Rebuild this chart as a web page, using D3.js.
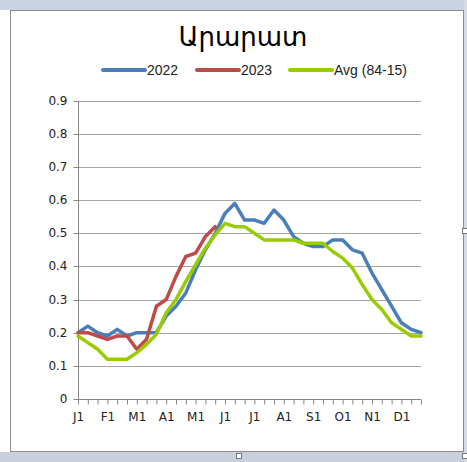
<!DOCTYPE html>
<html><head><meta charset="utf-8">
<script src="https://cdn.jsdelivr.net/npm/d3@7"></script>
<style>html,body{margin:0;padding:0;background:#fff;}svg{display:block;}</style>
</head><body>
<script>
const title = "Արարատ";
const monthLabels = ["J1","F1","M1","A1","M1","J1","J1","A1","S1","O1","N1","D1"];
const yTicks = [0,0.1,0.2,0.3,0.4,0.5,0.6,0.7,0.8,0.9];
const seriesNames = ["2022","2023","Avg (84-15)"];
const s2022 = [0.20,0.22,0.20,0.19,0.21,0.19,0.20,0.20,0.20,0.25,0.28,0.32,0.39,0.45,0.50,0.56,0.59,0.54,0.54,0.53,0.57,0.54,0.49,0.47,0.46,0.46,0.48,0.48,0.45,0.44,0.38,0.33,0.28,0.23,0.21,0.20];
const s2023 = [0.20,0.20,0.19,0.18,0.19,0.19,0.15,0.18,0.28,0.30,0.37,0.43,0.44,0.49,0.52];
const sAvg  = [0.19,0.17,0.15,0.12,0.12,0.12,0.14,0.165,0.195,0.26,0.30,0.355,0.405,0.455,0.495,0.53,0.52,0.52,0.50,0.48,0.48,0.48,0.48,0.47,0.47,0.47,0.445,0.425,0.395,0.345,0.30,0.27,0.23,0.21,0.19,0.19];
const colors = ["#4a7ebb","#be4b48","#99cc00"];

const W = 467, H = 462;
const svg = d3.select("body").append("svg").attr("width", W).attr("height", H);

// window surroundings
svg.append("rect").attr("x",0).attr("y",0).attr("width",W).attr("height",10).attr("fill","#c9d3e3");
svg.append("rect").attr("x",0).attr("y",452).attr("width",W).attr("height",10).attr("fill","#c9d0dc");
svg.append("rect").attr("x",464).attr("y",0).attr("width",3).attr("height",H).attr("fill","#d6dae2");
svg.append("rect").attr("x",10.5).attr("y",10.5).attr("width",453).attr("height",441)
  .attr("fill","#fff").attr("stroke","#8c8c8c");

const n = s2022.length;
const idx = d3.range(n);
const x = d3.scalePoint().domain(idx).range([78, 421]);
const y = d3.scaleLinear().domain([0, 0.9]).range([399, 100.7]);

// gridlines
svg.append("g").selectAll("line").data(yTicks.filter(v => v > 0)).join("line")
  .attr("x1", 78).attr("x2", 421)
  .attr("y1", d => Math.round(y(d)) + 0.5).attr("y2", d => Math.round(y(d)) + 0.5)
  .attr("stroke", "#a6a6a6").attr("stroke-width", 1);

// y axis
const yAxis = svg.append("g").attr("transform", "translate(78.5,0)")
  .call(d3.axisLeft(y).tickValues(yTicks).tickSize(5).tickPadding(6)
    .tickFormat(d => d === 0 ? "0" : d3.format(".1f")(d)));
yAxis.select(".domain").attr("stroke", "#868686").attr("d", `M0,${y(0.9)}V${y(0)}`);
yAxis.selectAll(".tick line").attr("stroke", "#868686");
yAxis.selectAll(".tick").attr("transform", d => `translate(0,${Math.round(y(d)) + 0.5})`);
yAxis.selectAll("text").attr("font-family", "DejaVu Sans").attr("font-size", 12).attr("fill", "#222");

// x axis
const xAxis = svg.append("g").attr("transform", `translate(0,${Math.round(y(0)) + 0.5})`)
  .call(d3.axisBottom(x).tickSize(5).tickPadding(8)
    .tickFormat(i => i % 3 === 0 ? monthLabels[i / 3] : ""));
xAxis.select(".domain").attr("stroke", "#868686").attr("d", `M78,0H421`);
xAxis.selectAll(".tick line").attr("stroke", "#868686");
xAxis.selectAll("text").attr("font-family", "DejaVu Sans").attr("font-size", 12).attr("fill", "#222");

// lines
const line = d3.line().x((d, i) => x(i)).y(d => y(d));
[s2022, s2023, sAvg].forEach((s, k) => {
  svg.append("path").datum(s).attr("d", line)
    .attr("fill", "none").attr("stroke", colors[k]).attr("stroke-width", 3.5)
    .attr("stroke-linejoin", "round").attr("stroke-linecap", "round");
});
// draw order: avg on top of others? keep 2022,2023 then avg

// title
svg.append("text").attr("x", 243).attr("y", 46).attr("text-anchor", "middle")
  .attr("font-family", "DejaVu Sans").attr("font-size", 26).attr("fill", "#000").text(title);

// legend
const legendX = [103, 197, 290];
const lg = svg.append("g");
seriesNames.forEach((name, k) => {
  lg.append("line").attr("x1", legendX[k]).attr("x2", legendX[k] + 42).attr("y1", 70).attr("y2", 70)
    .attr("stroke", colors[k]).attr("stroke-width", 4).attr("stroke-linecap", "round");
  lg.append("text").attr("x", legendX[k] + 44).attr("y", 75)
    .attr("font-family", "Liberation Sans, Arial, sans-serif").attr("font-size", 14).attr("fill", "#222").text(name);
});

// selection handles
[[465, 231], [465, 456], [239, 456]].forEach(([hx, hy]) => {
  svg.append("rect").attr("x", hx - 2.5).attr("y", hy - 2.5).attr("width", 5).attr("height", 5)
    .attr("fill", "#fff").attr("stroke", "#777").attr("stroke-width", 1);
});
</script>
</body></html>
